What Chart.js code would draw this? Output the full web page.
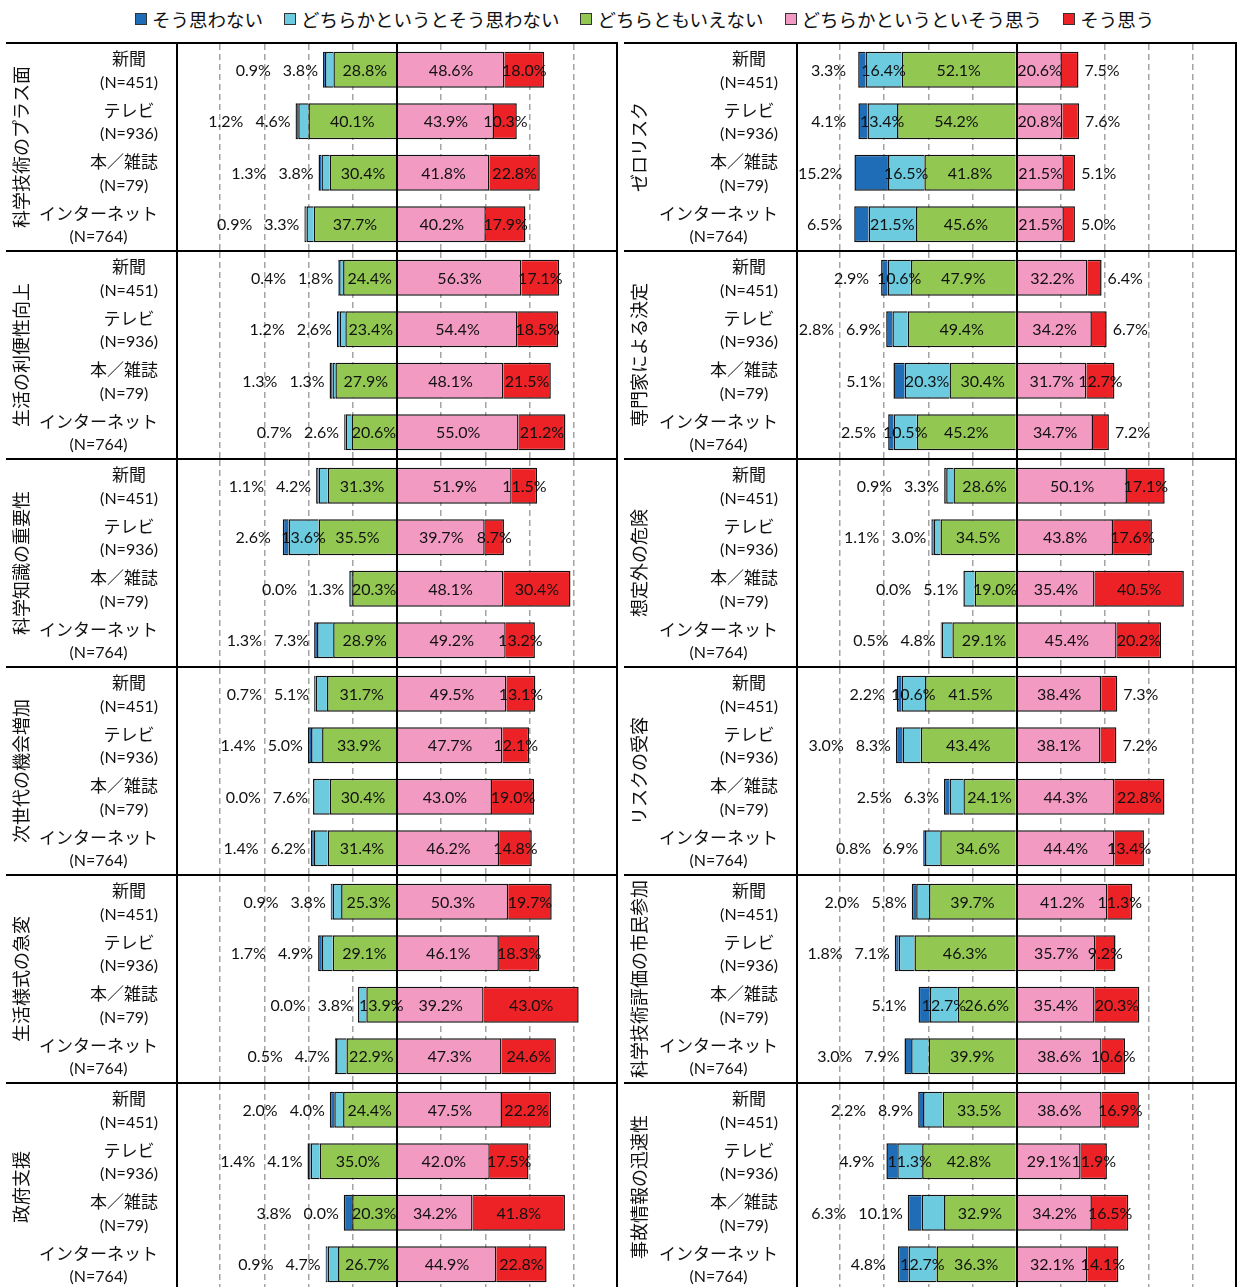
<!DOCTYPE html>
<html lang="ja">
<head>
<meta charset="utf-8">
<title>情報源別 科学技術に対する意識</title>
<script src="https://cdn.jsdelivr.net/npm/chart.js@4.4.1/dist/chart.umd.min.js"></script>
<style>
  html, body { margin: 0; padding: 0; background: #fff; }
  #page { position: relative; width: 1237px; height: 1287px; overflow: hidden; font-family: "Noto Sans CJK JP", sans-serif; }
  #legend { position: absolute; left: 135px; top: 6px; display: flex; align-items: center; font-size: 18.5px; color: #111; white-space: nowrap; }
  .legend-item { display: flex; align-items: center; margin-right: 21px; }
  .legend-box { width: 10px; height: 10px; border: 1px solid #333; margin-right: 5px; }
  .col { position: absolute; top: 42px; }
  .col canvas { display: block; }
</style>
</head>
<body>
<div id="page">
  <div id="legend"></div>
  <div class="col" id="colLeft" style="left:6px"></div>
  <div class="col" id="colRight" style="left:624px"></div>
</div>
<script>
// categories / series
const categories = ["新聞", "テレビ", "本／雑誌", "インターネット"];
const sampleSizes = [451, 936, 79, 764];
const seriesNames = ["そう思わない", "どちらかというとそう思わない", "どちらともいえない", "どちらかというといそう思う", "そう思う"];
const seriesColors = ["#1f6db6", "#6ccbdf", "#92c851", "#f39ac2", "#ec2227"];

// each row: [そう思わない, どちらかというとそう思わない, どちらともいえない, どちらかというといそう思う, そう思う] (%)
const plusSide = [[0.9, 3.8, 28.8, 48.6, 18.0], [1.2, 4.6, 40.1, 43.9, 10.3], [1.3, 3.8, 30.4, 41.8, 22.8], [0.9, 3.3, 37.7, 40.2, 17.9]];
const convenience = [[0.4, 1.8, 24.4, 56.3, 17.1], [1.2, 2.6, 23.4, 54.4, 18.5], [1.3, 1.3, 27.9, 48.1, 21.5], [0.7, 2.6, 20.6, 55.0, 21.2]];
const knowledge = [[1.1, 4.2, 31.3, 51.9, 11.5], [2.6, 13.6, 35.5, 39.7, 8.7], [0.0, 1.3, 20.3, 48.1, 30.4], [1.3, 7.3, 28.9, 49.2, 13.2]];
const nextGen = [[0.7, 5.1, 31.7, 49.5, 13.1], [1.4, 5.0, 33.9, 47.7, 12.1], [0.0, 7.6, 30.4, 43.0, 19.0], [1.4, 6.2, 31.4, 46.2, 14.8]];
const lifestyle = [[0.9, 3.8, 25.3, 50.3, 19.7], [1.7, 4.9, 29.1, 46.1, 18.3], [0.0, 3.8, 13.9, 39.2, 43.0], [0.5, 4.7, 22.9, 47.3, 24.6]];
const govSupport = [[2.0, 4.0, 24.4, 47.5, 22.2], [1.4, 4.1, 35.0, 42.0, 17.5], [3.8, 0.0, 20.3, 34.2, 41.8], [0.9, 4.7, 26.7, 44.9, 22.8]];

const zeroRisk = [[3.3, 16.4, 52.1, 20.6, 7.5], [4.1, 13.4, 54.2, 20.8, 7.6], [15.2, 16.5, 41.8, 21.5, 5.1], [6.5, 21.5, 45.6, 21.5, 5.0]];
const expertDecision = [[2.9, 10.6, 47.9, 32.2, 6.4], [2.8, 6.9, 49.4, 34.2, 6.7], [5.1, 20.3, 30.4, 31.7, 12.7], [2.5, 10.5, 45.2, 34.7, 7.2]];
const unexpected = [[0.9, 3.3, 28.6, 50.1, 17.1], [1.1, 3.0, 34.5, 43.8, 17.6], [0.0, 5.1, 19.0, 35.4, 40.5], [0.5, 4.8, 29.1, 45.4, 20.2]];
const riskAccept = [[2.2, 10.6, 41.5, 38.4, 7.3], [3.0, 8.3, 43.4, 38.1, 7.2], [2.5, 6.3, 24.1, 44.3, 22.8], [0.8, 6.9, 34.6, 44.4, 13.4]];
const citizenEval = [[2.0, 5.8, 39.7, 41.2, 11.3], [1.8, 7.1, 46.3, 35.7, 9.2], [5.1, 12.7, 26.6, 35.4, 20.3], [3.0, 7.9, 39.9, 38.6, 10.6]];
const accidentInfo = [[2.2, 8.9, 33.5, 38.6, 16.9], [4.9, 11.3, 42.8, 29.1, 11.9], [6.3, 10.1, 32.9, 34.2, 16.5], [4.8, 12.7, 36.3, 32.1, 14.1]];

const leftPanels = [
  { title: "科学技術のプラス面", rows: plusSide },
  { title: "生活の利便性向上", rows: convenience },
  { title: "科学知識の重要性", rows: knowledge },
  { title: "次世代の機会増加", rows: nextGen },
  { title: "生活様式の急変", rows: lifestyle },
  { title: "政府支援", rows: govSupport }
];
const rightPanels = [
  { title: "ゼロリスク", rows: zeroRisk },
  { title: "専門家による決定", rows: expertDecision },
  { title: "想定外の危険", rows: unexpected },
  { title: "リスクの受容", rows: riskAccept },
  { title: "科学技術評価の市民参加", rows: citizenEval },
  { title: "事故情報の迅速性", rows: accidentInfo }
];

const PANEL_H = 208;
const VALUE_FONT = "16px Lato, 'Noto Sans CJK JP', sans-serif";
const CAT_FONT = "17px 'Noto Sans CJK JP', sans-serif";
const N_FONT = "16px Lato, 'Noto Sans CJK JP', sans-serif";
const LIGHT_INSIDE = 10.5;
const RED_INSIDE = 8;

// legend (html)
const legendEl = document.getElementById("legend");
legendEl.innerHTML = seriesNames.map((name, i) => `
  <span class="legend-item"><span class="legend-box" style="background:${seriesColors[i]}"></span>${name}</span>
`).join("");

const framePlugin = {
  id: "panelFrame",
  afterDatasetsDraw(chart) {
    const { ctx, chartArea, width, height } = chart;
    const x0 = Math.round(chart.scales.x.getPixelForValue(0));
    ctx.save();
    ctx.strokeStyle = "#000";
    ctx.lineWidth = 2;
    ctx.beginPath();
    ctx.moveTo(0, 1); ctx.lineTo(width, 1);
    ctx.moveTo(chartArea.left + 1, 0); ctx.lineTo(chartArea.left + 1, height);
    ctx.moveTo(chartArea.right - 1, 0); ctx.lineTo(chartArea.right - 1, height);
    ctx.moveTo(x0, 0); ctx.lineTo(x0, height);
    ctx.stroke();
    ctx.restore();
  }
};

const categoryLabels = {
  id: "categoryLabels",
  afterDraw(chart) {
    const { ctx, chartArea } = chart;
    const yScale = chart.scales.y;
    const right = chartArea.left - 18;
    ctx.save();
    ctx.fillStyle = "#111";
    ctx.textAlign = "center";
    ctx.textBaseline = "middle";
    categories.forEach((cat, i) => {
      const y = yScale.getPixelForValue(i) + 1;
      const lines = [
        { text: cat, font: CAT_FONT, dy: -12 },
        { text: `(N=${sampleSizes[i]})`, font: N_FONT, dy: 12 }
      ];
      const block = Math.max(...lines.map(l => { ctx.font = l.font; return ctx.measureText(l.text).width; }));
      lines.forEach(l => {
        ctx.font = l.font;
        ctx.fillText(l.text, right - block / 2, y + l.dy);
      });
    });
    ctx.restore();
  }
};

const segmentLabels = {
  id: "segmentLabels",
  afterDraw(chart) {
    const { ctx } = chart;
    const bySeries = {};
    chart.data.datasets.forEach((ds, d) => {
      bySeries[ds.series] = { ds, bars: chart.getDatasetMeta(d).data };
    });
    ctx.save();
    ctx.font = VALUE_FONT;
    ctx.fillStyle = "#111";
    ctx.textBaseline = "middle";
    chart.data.labels.forEach((_, i) => {
      const bar = s => bySeries[s].bars[i];
      const val = s => bySeries[s].ds.values[i];
      const text = s => val(s).toFixed(1) + "%";
      const mid = el => (el.x + el.base) / 2;
      const y = bar(2).y + 1;
      const put = (s, x, align) => { ctx.textAlign = align; ctx.fillText(text(s), x, y); };

      put(2, mid(bar(2)), "center");
      put(3, mid(bar(3)), "center");
      if (val(4) >= RED_INSIDE) put(4, mid(bar(4)), "center");
      else put(4, bar(4).x + 6, "left");

      const barStart = Math.min(bar(0).x, bar(1).x, bar(2).x);
      let edge;
      if (val(1) >= LIGHT_INSIDE) {
        put(1, mid(bar(1)), "center");
        edge = barStart - 12;
      } else {
        put(1, barStart - 5, "right");
        edge = barStart - 5 - ctx.measureText(text(1)).width - 12;
      }
      put(0, edge, "right");
    });
    ctx.restore();
  }
};

function makePanel(container, panel, width, axisWidth) {
  const canvas = document.createElement("canvas");
  canvas.width = width;
  canvas.height = PANEL_H;
  container.appendChild(canvas);

  // green, light, dark stack leftwards from zero; pink, red rightwards
  const stackOrder = [2, 1, 0, 3, 4];
  const datasets = stackOrder.map(s => ({
    label: seriesNames[s],
    series: s,
    values: panel.rows.map(r => r[s]),
    data: panel.rows.map(r => (s < 3 ? -r[s] : r[s])),
    backgroundColor: seriesColors[s],
    borderColor: "#111",
    borderWidth: 1.5,
    borderSkipped: "start",
    categoryPercentage: 0.7,
    barPercentage: 1
  }));

  return new Chart(canvas, {
    type: "bar",
    data: { labels: categories, datasets },
    options: {
      indexAxis: "y",
      responsive: false,
      animation: false,
      events: [],
      layout: { padding: { top: 2 } },
      plugins: { legend: { display: false }, tooltip: { enabled: false } },
      scales: {
        x: {
          stacked: true,
          min: -100,
          max: 100,
          ticks: { display: false, stepSize: 20 },
          grid: {
            drawTicks: false,
            lineWidth: 1.5,
            color: c => ([-100, 0, 100].includes(c.tick.value) ? "rgba(0,0,0,0)" : "#a3a3a3")
          },
          border: { display: false, dash: [6, 4] }
        },
        y: {
          stacked: true,
          ticks: { display: false },
          grid: { display: false },
          border: { display: false },
          title: {
            display: true,
            text: panel.title,
            color: "#111",
            font: { family: "'Noto Sans CJK JP', sans-serif", size: 18 },
            padding: { top: 4, bottom: 0 }
          },
          afterFit(scale) { scale.width = axisWidth; }
        }
      }
    },
    plugins: [framePlugin, categoryLabels, segmentLabels]
  });
}

const colLeft = document.getElementById("colLeft");
const colRight = document.getElementById("colRight");
leftPanels.forEach(p => makePanel(colLeft, p, 612, 170));
rightPanels.forEach(p => makePanel(colRight, p, 613, 172));
</script>
</body>
</html>
